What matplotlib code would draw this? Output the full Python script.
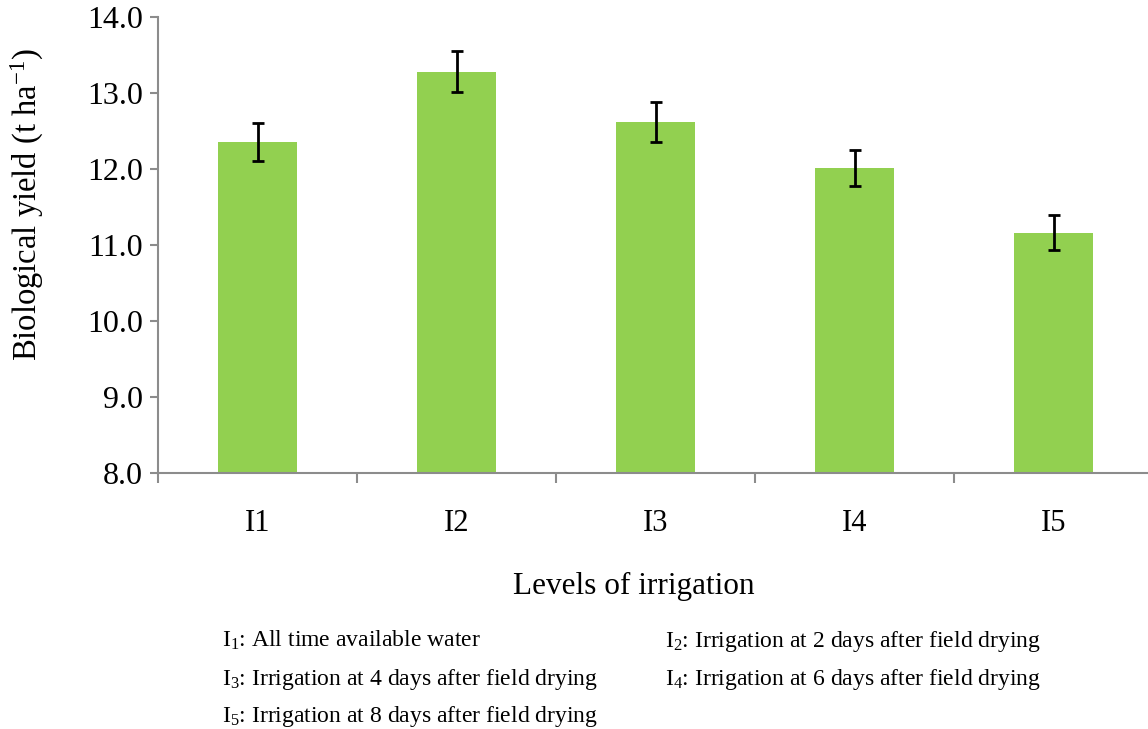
import numpy as np
import matplotlib.pyplot as plt

plt.rcParams['font.family'] = ['Liberation Serif', 'DejaVu Serif']
plt.rcParams['mathtext.fontset'] = 'custom'
plt.rcParams['mathtext.rm'] = 'Liberation Serif'
plt.rcParams['mathtext.it'] = 'Liberation Serif:italic'

#%% datos
niveles = ['I1', 'I2', 'I3', 'I4', 'I5']
rendimiento = [12.36, 13.28, 12.62, 12.01, 11.16]
error = [0.25, 0.27, 0.26, 0.24, 0.23]
leyenda = [r'I$_1$: All time available water',
           r'I$_2$: Irrigation at 2 days after field drying',
           r'I$_3$: Irrigation at 4 days after field drying',
           r'I$_4$: Irrigation at 6 days after field drying',
           r'I$_5$: Irrigation at 8 days after field drying']

#%% grafico
W, H = 1148, 729
fig = plt.figure(figsize=(W/100, H/100), dpi=100)
ax = fig.add_axes([158/W, (H-473)/H, 995/W, 456/H])

x = np.arange(len(niveles))
ax.bar(x, rendimiento, width=0.4, color='#92D050', zorder=2)
ax.errorbar(x, rendimiento, yerr=error, fmt='none', ecolor='black',
            elinewidth=2, capsize=4.5, capthick=2, zorder=3)

ax.set_ylim(8, 14)
ax.set_xlim(-0.5, 4.5)
ax.set_yticks(np.arange(8, 14.1, 1))
ax.set_yticklabels([f'{v:.1f}' for v in np.arange(8, 14.1, 1)], fontsize=23)
ax.set_xticks(x)
ax.set_xticklabels(niveles, fontsize=22)
ax.set_xticks(np.arange(-0.5, 4.6, 1), minor=True)
ax.tick_params(axis='x', which='major', length=0, pad=26)
ax.tick_params(axis='x', which='minor', length=7, width=1.5, color='#8c8c8c')
ax.tick_params(axis='y', length=6, width=1.5, color='#8c8c8c', pad=5)

for s in ['top', 'right']:
    ax.spines[s].set_visible(False)
for s in ['left', 'bottom']:
    ax.spines[s].set_color('#8c8c8c')
    ax.spines[s].set_linewidth(1.5)

fig.text(27/W, 1-204/H, r'Biological yield (t ha$^{\mathregular{-1}}$)', fontsize=23.5,
         rotation=90, ha='center', va='center')
fig.text(634/W, 1-586/H, 'Levels of irrigation', fontsize=22.5, ha='center', va='center')

# notas al pie
pos = [(222, 647), (665, 647), (222, 685), (665, 685), (222, 722)]
for (px, py), t in zip(pos, leyenda):
    fig.text(px/W, 1-py/H, t, fontsize=17, ha='left', va='baseline')

fig.savefig('out.png', dpi=100)
